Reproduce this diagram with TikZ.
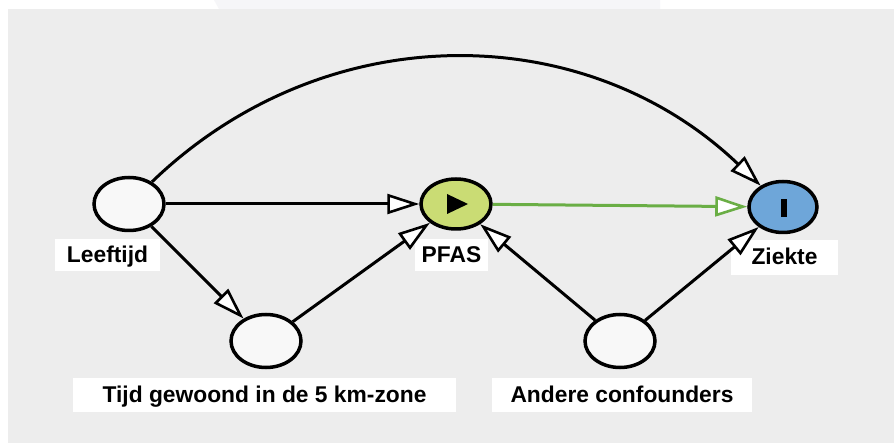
\documentclass[tikz,border=0pt]{standalone}
\usepackage{fontspec}
\setmainfont{Liberation Sans}
\usetikzlibrary{shapes.geometric,arrows.meta}
\definecolor{bggray}{HTML}{EDEDED}
\definecolor{topgray}{HTML}{F6F6F8}
\definecolor{nodewhite}{HTML}{F8F8F8}
\definecolor{pfasgreen}{HTML}{CADC74}
\definecolor{ziekblue}{HTML}{6EA6D9}
\definecolor{linegreen}{HTML}{6AAE45}
\tikzset{
  var/.style={ellipse, draw=black, line width=3.5pt, fill=nodewhite, inner sep=0pt, minimum width=70pt, minimum height=53pt},
  lbl/.style={fill=white, inner sep=0pt, text height=17pt, text depth=2pt, font=\fontsize{22.8}{27}\selectfont\bfseries},
  tipw/.tip={Triangle[length=32pt, width=20pt, fill=white, line width=2.6pt]},
  arr/.style={line width=3pt, -tipw},
  garr/.style={line width=3pt, draw=linegreen, -tipw}
}
\begin{document}
\begin{tikzpicture}[x=1pt, y=-1pt]
\useasboundingbox (0,0) rectangle (894,443);
\fill[white] (0,0) rectangle (894,443);
\fill[bggray] (8,9) rectangle (894,443);
\fill[topgray] (214,0) -- (660,0) -- (660,9) -- (219,9) -- cycle;

% nodes
\node[var] (leef) at (129,204) {};
\node[var, fill=pfasgreen, minimum height=50pt] (pfas) at (456,204) {};
\node[var, fill=ziekblue, minimum width=68pt, minimum height=51pt] (ziek) at (783,207) {};
\node[var] (tijd) at (266,341) {};
\node[var] (andr) at (620,341) {};

% inner symbols
\fill[black] (447,194) -- (468,204) -- (447,214) -- cycle;
\fill[black] (781,199) rectangle (787,217);

% labels
\node[lbl, minimum width=105pt, minimum height=32pt] (leefl) at (107.5,255) {Leeftijd};
\node[lbl, minimum width=73pt, minimum height=32pt] (pfasl) at (451.5,255) {PFAS};
\node[lbl, minimum width=107pt, minimum height=35pt] (ziekl) at (784.5,257.5) {Ziekte};
\node[lbl, minimum width=383pt, minimum height=34pt] (tijdl) at (264.5,395) {Tijd gewoond in de 5 km-zone};
\node[lbl, minimum width=260pt, minimum height=34pt] (andrl) at (622,395) {Andere confounders};

% connectors
\draw[arr] (leef) -- (pfas);
\draw[arr] (leef) -- (tijd);
\draw[arr] (tijd) -- (pfas);
\draw[arr] (andr) -- (pfas);
\draw[arr] (andr) -- (ziek);
\draw[garr] (pfas) -- (ziek);
\draw[arr] (leef) .. controls (325,15) and (585,18) .. (ziek);
\end{tikzpicture}
\end{document}
